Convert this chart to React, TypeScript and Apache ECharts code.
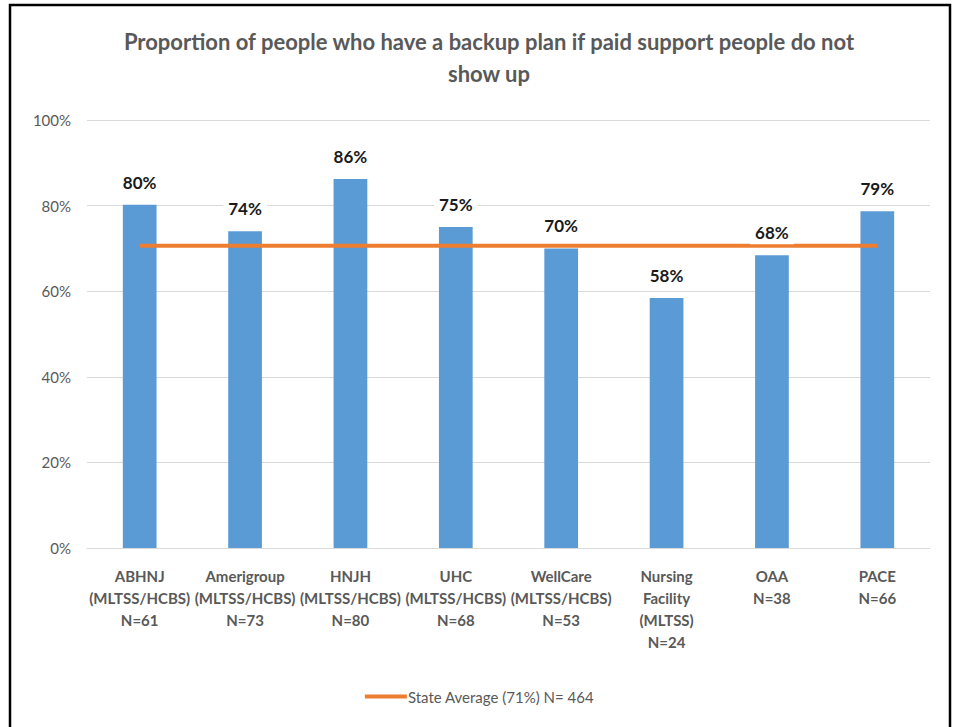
import React, { useEffect, useRef } from "react";
import * as echarts from "echarts";

const titleText = "Proportion of people who have a backup plan if paid support people do not\nshow up";
const categories = [
  "ABHNJ\n(MLTSS/HCBS)\nN=61",
  "Amerigroup\n(MLTSS/HCBS)\nN=73",
  "HNJH\n(MLTSS/HCBS)\nN=80",
  "UHC\n(MLTSS/HCBS)\nN=68",
  "WellCare\n(MLTSS/HCBS)\nN=53",
  "Nursing\nFacility\n(MLTSS)\nN=24",
  "OAA\nN=38",
  "PACE\nN=66",
];
const barValues = [80.2, 74, 86.2, 75, 70, 58.4, 68.4, 78.7];
const stateAverageName = "State Average (71%) N= 464";
const stateAverage = [70.6, 70.6, 70.6, 70.6, 70.6, 70.6, 70.6, 70.6];

const FONT = "Lato, 'Open Sans', sans-serif";

export default function App() {
  const ref = useRef<HTMLDivElement>(null);
  useEffect(() => {
    if (!ref.current) return;
    const chart = echarts.init(ref.current, undefined, { renderer: "svg" });
    chart.setOption({
      animation: false,
      backgroundColor: "#ffffff",
      textStyle: { fontFamily: FONT },
      title: {
        text: titleText,
        left: 484,
        textAlign: "center",
        top: 20,
        textStyle: {
          fontFamily: FONT,
          fontSize: 22,
          fontWeight: "bold",
          color: "#595959",
          lineHeight: 32,
        },
      },
      graphic: [
        {
          type: "rect",
          shape: { x: 10, y: 5, width: 940, height: 740 },
          style: { fill: "none", stroke: "#000000", lineWidth: 2.5 },
          silent: true,
        },
      ],
      legend: {
        data: [{ name: stateAverageName, icon: "rect" }],
        bottom: 18,
        left: "center",
        itemWidth: 42,
        itemHeight: 4,
        itemGap: 4,
        textStyle: { fontFamily: FONT, fontSize: 15, color: "#595959", padding: [0, 0, 0, -4] },
      },
      grid: { left: 87, right: 29, top: 120, bottom: 179, containLabel: false },
      xAxis: {
        type: "category",
        data: categories,
        axisTick: { show: false },
        axisLine: { lineStyle: { color: "#d9d9d9", width: 1 } },
        axisLabel: {
          interval: 0,
          margin: 17,
          fontFamily: FONT,
          fontSize: 15,
          fontWeight: "bold",
          color: "#595959",
          lineHeight: 22,
        },
      },
      yAxis: {
        type: "value",
        min: 0,
        max: 100,
        interval: 20,
        axisLine: { show: false },
        axisTick: { show: false },
        splitLine: { lineStyle: { color: "#d9d9d9", width: 1 } },
        axisLabel: {
          formatter: (v: number) => v + "%",
          fontFamily: FONT,
          fontSize: 15,
          color: "#595959",
          margin: 16,
        },
      },
      series: [
        {
          type: "bar",
          name: "Proportion",
          data: barValues,
          barWidth: "32%",
          itemStyle: { color: "#5B9BD5" },
          z: 2,
        },
        {
          type: "line",
          name: stateAverageName,
          data: stateAverage,
          symbol: "none",
          lineStyle: { color: "#ED7D31", width: 4 },
          itemStyle: { color: "#ED7D31" },
          z: 3,
        },
        {
          type: "bar",
          name: "labels",
          data: barValues,
          barWidth: "32%",
          barGap: "-100%",
          itemStyle: { color: "rgba(0,0,0,0)" },
          z: 4,
          label: {
            show: true,
            position: "top",
            distance: 11,
            formatter: (p: any) => Math.round(p.value) + "%",
            fontFamily: FONT,
            fontSize: 17,
            fontWeight: "bold",
            color: "#1a1a1a",
            backgroundColor: "#ffffff",
            padding: [3, 5],
          },
          tooltip: { show: false },
        },
      ],
    });
    return () => chart.dispose();
  }, []);
  return (
    <div
      ref={ref}
      style={{ position: "fixed", left: 0, top: 0, width: 959, height: 727 }}
    />
  );
}
